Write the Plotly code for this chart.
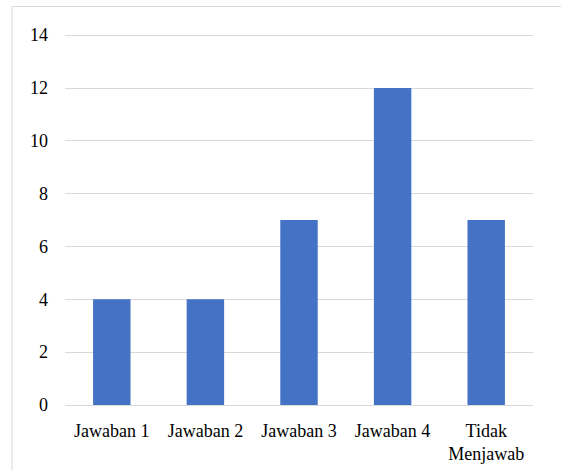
import plotly.graph_objects as go

categories = ["Jawaban 1", "Jawaban 2", "Jawaban 3", "Jawaban 4", "Tidak<br>Menjawab"]
values = [4, 4, 7, 12, 7]
y_ticks = [0, 2, 4, 6, 8, 10, 12, 14]

W, H = 561, 470
ML, MR, MT, MB = 65, 28, 32, 65
pw, ph = W - ML - MR, H - MT - MB

fig = go.Figure(
    go.Bar(
        x=categories,
        y=values,
        marker=dict(color="#4472C4", line=dict(width=0)),
        width=0.4,
    )
)

font = dict(family="Liberation Serif", size=18, color="#000000")

fig.update_layout(
    width=W,
    height=H,
    margin=dict(l=ML, r=MR, t=MT, b=MB, pad=0),
    paper_bgcolor="white",
    plot_bgcolor="white",
    showlegend=False,
    font=font,
    xaxis=dict(
        showgrid=False,
        showline=False,
        ticks="",
        tickfont=font,
        ticklabelstandoff=13,
        automargin=False,
    ),
    yaxis=dict(
        range=[0, 14.12],
        tickvals=y_ticks,
        showgrid=True,
        gridcolor="#D9D9D9",
        gridwidth=1,
        zeroline=True,
        zerolinecolor="#D9D9D9",
        zerolinewidth=1,
        showline=False,
        ticks="",
        tickfont=font,
        ticklabelstandoff=16,
        automargin=False,
    ),
)

# chart frame (light gray border)
fig.add_shape(
    type="rect",
    xref="paper",
    yref="paper",
    x0=(12 - ML) / pw,
    x1=(W + 40 - ML) / pw,
    y0=-(H + 40 - (H - MB)) / ph,
    y1=1 + (MT - 6.5) / ph,
    line=dict(color="#D9D9D9", width=1),
    fillcolor="rgba(0,0,0,0)",
    layer="below",
)

fig.write_html("out.html")
